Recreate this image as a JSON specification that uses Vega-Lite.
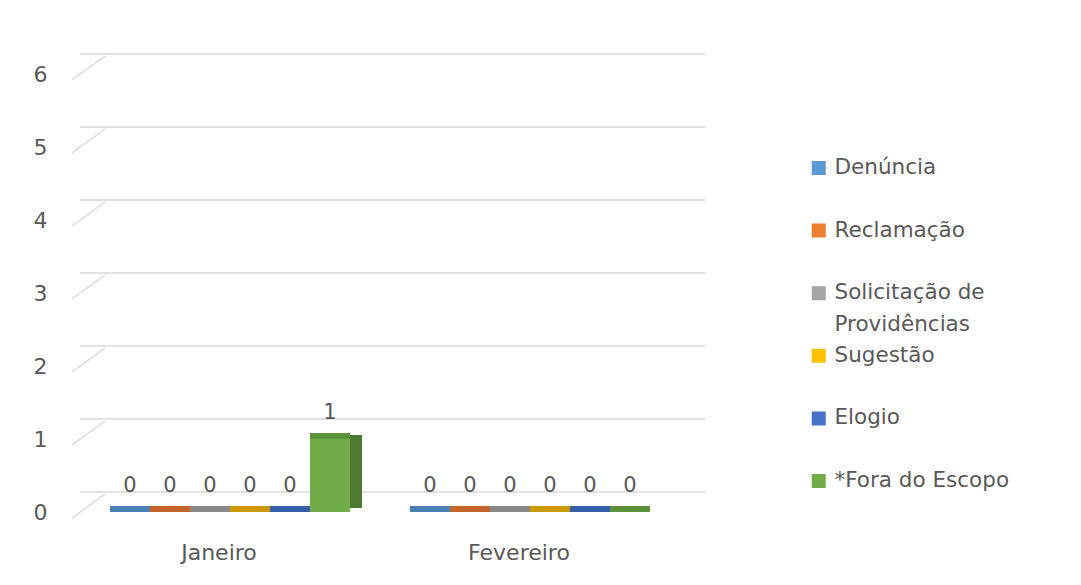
{
  "$schema": "https://vega.github.io/schema/vega-lite/v6.json",
  "autosize": {"type": "none"},
  "width": 600,
  "height": 438,
  "padding": {"left": 80, "top": 74, "right": 401, "bottom": 73},
  "background": "#ffffff",
  "config": {
    "view": {"stroke": null},
    "font": "DejaVu Sans",
    "axis": {"labelFont": "DejaVu Sans", "labelFontSize": 22, "labelColor": "#595959"},
    "legend": {"labelFont": "DejaVu Sans", "labelFontSize": 21.5, "labelColor": "#595959"}
  },
  "datasets": {
    "grid": [{"v": 0}, {"v": 1}, {"v": 2}, {"v": 3}, {"v": 4}, {"v": 5}, {"v": 6}]
  },
  "data": {
    "values": [
      {"mes": "Janeiro", "tipo": "Denúncia", "valor": 0},
      {"mes": "Janeiro", "tipo": "Reclamação", "valor": 0},
      {"mes": "Janeiro", "tipo": "Solicitação de Providências", "valor": 0},
      {"mes": "Janeiro", "tipo": "Sugestão", "valor": 0},
      {"mes": "Janeiro", "tipo": "Elogio", "valor": 0},
      {"mes": "Janeiro", "tipo": "*Fora do Escopo", "valor": 1},
      {"mes": "Fevereiro", "tipo": "Denúncia", "valor": 0},
      {"mes": "Fevereiro", "tipo": "Reclamação", "valor": 0},
      {"mes": "Fevereiro", "tipo": "Solicitação de Providências", "valor": 0},
      {"mes": "Fevereiro", "tipo": "Sugestão", "valor": 0},
      {"mes": "Fevereiro", "tipo": "Elogio", "valor": 0},
      {"mes": "Fevereiro", "tipo": "*Fora do Escopo", "valor": 0}
    ]
  },
  "encoding": {
    "x": {
      "field": "mes", "type": "nominal", "sort": ["Janeiro", "Fevereiro"],
      "scale": {"paddingInner": 0.2, "paddingOuter": 0.1},
      "axis": {"title": null, "domain": false, "ticks": false, "labelAngle": 0, "labelPadding": 30, "labelOffset": -11}
    }
  },
  "resolve": {"scale": {"color": "independent", "xOffset": "independent"}},
  "layer": [
    {
      "data": {"name": "grid"},
      "mark": {"type": "rule", "color": "#D9D9D9", "strokeWidth": 1.5, "yOffset": -20, "xOffset": 25},
      "encoding": {
        "x": null,
        "y": {"field": "v", "type": "quantitative", "scale": {"domain": [0, 6]},
              "axis": {"title": null, "domain": false, "ticks": false, "grid": false, "values": [0, 1, 2, 3, 4, 5, 6], "format": "d", "labelPadding": 33}}
      }
    },
    {
      "data": {"name": "grid"},
      "mark": {"type": "rule", "color": "#D9D9D9", "strokeWidth": 1.5, "yOffset": 6, "y2Offset": -18},
      "encoding": {
        "x": {"value": -8},
        "x2": {"value": 25},
        "y": {"field": "v", "type": "quantitative"},
        "y2": {"field": "v"}
      }
    },
    {
      "mark": {"type": "bar", "width": 12, "yOffset": -4},
      "encoding": {
        "xOffset": {"field": "tipo", "type": "nominal",
          "sort": ["Denúncia", "Reclamação", "Solicitação de Providências", "Sugestão", "Elogio", "*Fora do Escopo"],
          "scale": {"paddingInner": 0, "paddingOuter": 0, "range": [26, 266]}},
        "y": {"field": "valor", "type": "quantitative"},
        "color": {
          "field": "tipo", "type": "nominal",
          "scale": {
            "domain": ["Denúncia", "Reclamação", "Solicitação de Providências", "Sugestão", "Elogio", "*Fora do Escopo"],
            "range": ["#3E6F9C", "#B0581F", "#787878", "#B88C00", "#2D5193", "#4E7A2F"]
          },
          "legend": null
        }
      }
    },
    {
      "mark": {"type": "bar"},
      "encoding": {
        "xOffset": {"field": "tipo", "type": "nominal",
          "sort": ["Denúncia", "Reclamação", "Solicitação de Providências", "Sugestão", "Elogio", "*Fora do Escopo"],
          "scale": {"paddingInner": 0, "paddingOuter": 0}},
        "y": {"field": "valor", "type": "quantitative"},
        "color": {
          "field": "tipo", "type": "nominal",
          "sort": ["Denúncia", "Reclamação", "Solicitação de Providências", "Sugestão", "Elogio", "*Fora do Escopo"],
          "scale": {
            "domain": ["Denúncia", "Reclamação", "Solicitação de Providências", "Sugestão", "Elogio", "*Fora do Escopo"],
            "range": ["#5B9BD5", "#ED7D31", "#A5A5A5", "#FFC000", "#4472C4", "#70AD47"]
          },
          "legend": {
            "title": null, "orient": "none", "legendX": 728, "legendY": 83,
            "symbolType": "square", "symbolSize": 196, "symbolStrokeWidth": 0, "symbolOpacity": 1,
            "clipHeight": 22,
            "rowPadding": 8.6, "labelOffset": 5, "labelLimit": 300,
            "labelExpr": "datum.label == 'Solicitação de Providências' ? ['Solicitação de', 'Providências'] : [datum.label, ' ']",
            "encode": {
              "labels": {
                "update": {
                  "lineHeight": {"value": 32}
                }
              }
            }
          }
        }
      }
    },
    {
      "mark": {"type": "tick", "thickness": 6, "size": 40, "yOffset": -3, "opacity": 1},
      "encoding": {
        "xOffset": {"field": "tipo", "type": "nominal",
          "sort": ["Denúncia", "Reclamação", "Solicitação de Providências", "Sugestão", "Elogio", "*Fora do Escopo"],
          "scale": {"type": "band", "paddingInner": 0, "paddingOuter": 0}},
        "y": {"field": "valor", "type": "quantitative"},
        "color": {
          "field": "tipo", "type": "nominal",
          "scale": {
            "domain": ["Denúncia", "Reclamação", "Solicitação de Providências", "Sugestão", "Elogio", "*Fora do Escopo"],
            "range": ["#4A80B2", "#C4632A", "#888888", "#CC9A00", "#3560A8", "#5A9139"]
          },
          "legend": null
        }
      }
    },
    {
      "mark": {"type": "text", "dy": -26, "fontSize": 21, "color": "#595959"},
      "encoding": {
        "xOffset": {"field": "tipo", "type": "nominal",
          "sort": ["Denúncia", "Reclamação", "Solicitação de Providências", "Sugestão", "Elogio", "*Fora do Escopo"],
          "scale": {"type": "band", "paddingInner": 0, "paddingOuter": 0}},
        "y": {"field": "valor", "type": "quantitative"},
        "text": {"field": "valor", "type": "quantitative"}
      }
    }
  ]
}
